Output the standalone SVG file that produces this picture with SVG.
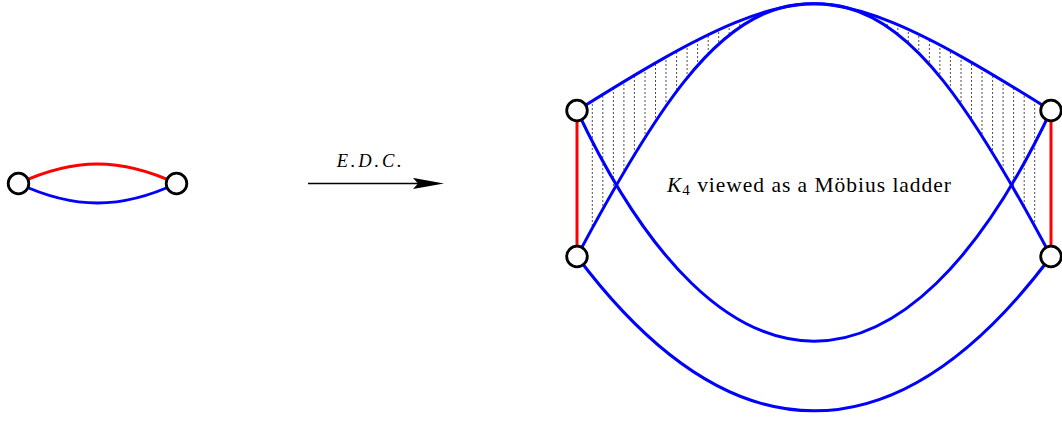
<svg xmlns="http://www.w3.org/2000/svg" width="1062" height="421" viewBox="0 0 1062 421">
<style>
.node{fill:#fff;stroke:#000;stroke-width:2.8}
.blue{fill:none;stroke:#0000ff;stroke-width:3}
.red{fill:none;stroke:#ff0000;stroke-width:3}
.hatch{fill:none;stroke:#222;stroke-width:0.8;stroke-dasharray:2 2}
.lbl{font-family:"Liberation Serif","DejaVu Serif",serif;fill:#000}
</style>
<defs>
<clipPath id="band">
<path d="M577,110.5 C831,-49 887,-52 1051,256.5 L1051,110.5 C797,-49 741,-52 577,256.5 Z"/>
</clipPath>
<marker id="stealth" markerUnits="userSpaceOnUse" markerWidth="32" markerHeight="14" refX="17" refY="6" orient="auto">
<path d="M0,0.4 L31,6 L0,11.6 L5,6 Z" fill="#000"/>
</marker>
</defs>
<g id="hatching" clip-path="url(#band)">
<path class="hatch" d="M592.3,0V260M602.8,0V260M613.4,0V260M623.9,0V260M634.4,0V260M645,0V260M655.5,0V260M666,0V260M676.6,0V260M687.1,0V260M697.6,0V260M708.2,0V260M718.7,0V260M729.2,0V260M739.8,0V260M750.3,0V260M760.8,0V260M771.4,0V260M781.9,0V260M792.4,0V260M803,0V260M813.5,0V260M824,0V260M834.6,0V260M845.1,0V260M855.6,0V260M866.2,0V260M876.7,0V260M887.2,0V260M897.8,0V260M908.3,0V260M918.8,0V260M929.4,0V260M939.9,0V260M950.4,0V260M961,0V260M971.5,0V260M982,0V260M992.6,0V260M1003.1,0V260M1013.6,0V260M1024.2,0V260M1034.7,0V260"/>
</g>
<g id="connectors">
<path class="red" d="M18.5,183.5 C74.2,157.5 120.8,157.5 176.5,183.5"/>
<path class="blue" d="M18.5,183.5 C74.2,209.5 120.8,209.5 176.5,183.5"/>
<path d="M308,183.5 H430" stroke="#000" stroke-width="1.3" fill="none" marker-end="url(#stealth)"/>
<path class="red" d="M577,110.5 V256.5"/>
<path class="red" d="M1051,110.5 V256.5"/>
<path class="blue" d="M577,110.5 C831,-49 887,-52 1051,256.5"/>
<path class="blue" d="M577,256.5 C741,-52 797,-49 1051,110.5"/>
<path class="blue" d="M577,110.5 C722,418 906,418 1051,110.5"/>
<path class="blue" d="M577,256.5 C731.7,462.3 896.3,462.3 1051,256.5"/>
</g>
<g id="labels">
<text class="lbl" x="336.7" y="167.3" font-size="18.5" font-style="italic" textLength="65" lengthAdjust="spacing">E.D.C.</text>
<text class="lbl" x="667" y="191.7" font-size="21.5" textLength="284" lengthAdjust="spacing"><tspan font-style="italic">K</tspan><tspan font-size="15" dy="3">4</tspan><tspan dy="-3"> viewed as a Möbius ladder</tspan></text>
</g>
<g id="n1"><circle class="node" cx="18.5" cy="183.5" r="10.3"/></g>
<g id="n2"><circle class="node" cx="176.5" cy="183.5" r="10.3"/></g>
<g id="nA"><circle class="node" cx="577" cy="110.5" r="10.3"/></g>
<g id="nB"><circle class="node" cx="577" cy="256.5" r="10.3"/></g>
<g id="nC"><circle class="node" cx="1051" cy="110.5" r="10.3"/></g>
<g id="nD"><circle class="node" cx="1051" cy="256.5" r="10.3"/></g>
</svg>
